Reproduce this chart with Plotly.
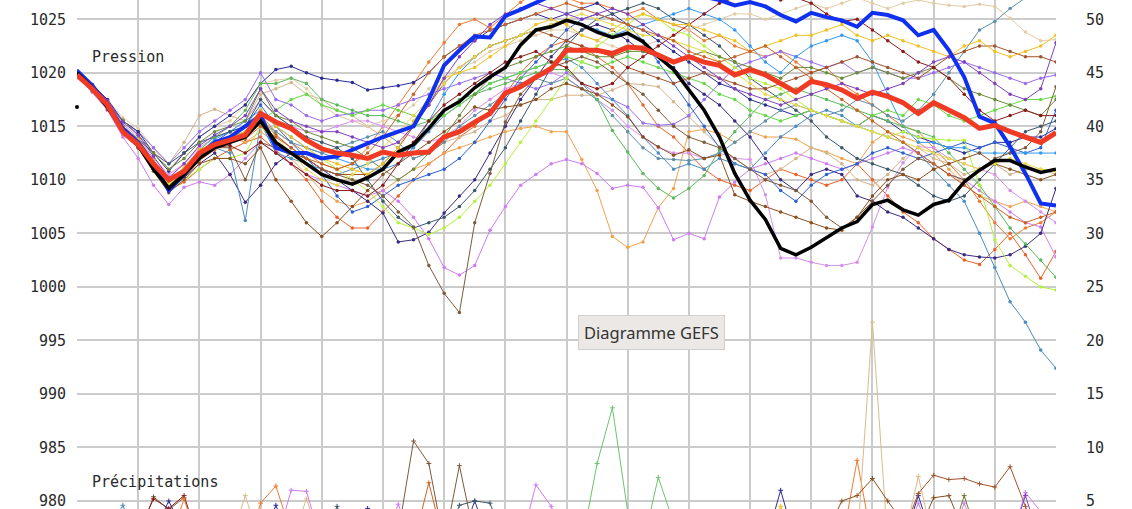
import plotly.graph_objects as go

# forecast hours, 6-hourly out to 384h
hours = list(range(0, 385, 6))

# ensemble mean / control / operational (hPa)
p_mean = [1019.8, 1018.5, 1017.0, 1014.5, 1013.3, 1011.5, 1010.0, 1010.8, 1012.5, 1013.3,
          1013.7, 1014.2, 1016.2, 1015.4, 1014.8, 1013.7, 1012.9, 1012.5, 1012.3, 1012.0,
          1012.6, 1012.3, 1012.5, 1012.6, 1014.0, 1014.5, 1015.4, 1016.2, 1018.1, 1018.7,
          1019.6, 1020.4, 1022.1, 1022.1, 1022.1, 1021.8, 1022.4, 1022.3, 1021.7, 1021.0,
          1021.5, 1021.0, 1020.7, 1019.8, 1020.3, 1019.8, 1019.0, 1018.2, 1019.2, 1018.9,
          1018.4, 1017.6, 1018.2, 1017.8, 1017.2, 1016.2, 1017.2, 1016.5, 1015.8, 1014.8,
          1015.1, 1014.5, 1014.0, 1013.5, 1014.4]
p_ctrl = [1020.0, 1018.6, 1016.8, 1014.6, 1013.2, 1011.0, 1009.2, 1010.5, 1012.0, 1013.0,
          1013.5, 1014.0, 1015.5, 1013.5, 1012.5, 1011.5, 1010.5, 1010.0, 1009.6, 1010.2,
          1011.0, 1012.6, 1013.3, 1014.8, 1016.5, 1017.3, 1018.6, 1019.6, 1020.5, 1022.6,
          1024.0, 1024.3, 1024.9, 1024.5, 1023.8, 1023.3, 1023.7, 1022.9, 1021.5, 1020.3,
          1018.4, 1016.5, 1014.0, 1010.6, 1008.1, 1006.3, 1003.6, 1003.0, 1003.7, 1004.6,
          1005.5, 1006.1, 1007.7, 1008.1, 1007.2, 1006.7, 1007.7, 1008.1, 1009.8, 1010.9,
          1011.8, 1011.8, 1011.2, 1010.7, 1011.0]
p_oper = [1020.2, 1018.8, 1017.0, 1014.8, 1013.5, 1011.5, 1009.0, 1010.5, 1012.3, 1013.5,
          1014.0, 1015.0, 1016.0, 1013.0, 1012.5, 1012.5, 1012.0, 1012.2, 1012.8, 1013.5,
          1014.0, 1014.5, 1015.0, 1017.5, 1020.7, 1022.1, 1023.4, 1023.3, 1025.3, 1025.9,
          1026.6, 1027.2, 1027.6, 1027.8, 1027.6, 1027.8, 1027.5, 1027.3, 1027.5, 1027.6,
          1027.4, 1027.1, 1026.8, 1026.3, 1026.6, 1026.2, 1025.4, 1024.8, 1025.6, 1025.2,
          1024.9, 1024.3, 1025.6, 1025.4, 1024.9, 1023.5, 1024.0, 1022.1, 1019.6, 1015.9,
          1015.3, 1013.1, 1010.6, 1007.8, 1007.6]

# ensemble members (hPa)
m_orange = [1019.8, 1018.6, 1016.8, 1014.5, 1013.2, 1011.0, 1009.5, 1010.2, 1011.8, 1012.8,
            1013.5, 1014.0, 1016.0, 1014.5, 1013.5, 1012.5, 1011.5, 1011.0, 1011.5, 1013.0,
            1015.0, 1017.0, 1019.0, 1021.0, 1022.8, 1024.5, 1025.0, 1024.2, 1025.4, 1026.6,
            1027.5, 1027.5, 1027.0, 1026.5, 1026.5, 1026.0, 1025.5, 1026.0, 1025.0, 1024.5,
            1024.0, 1023.0, 1023.5, 1022.5, 1022.0, 1021.5, 1022.0, 1021.0, 1020.0, 1020.5,
            1019.0, 1018.0, 1017.0, 1016.0, 1015.0, 1014.5, 1013.0, 1011.5, 1010.0, 1008.0,
            1006.0, 1004.5, 1005.5, 1006.0, 1007.0]
m_redorange = [1019.6, 1018.2, 1016.5, 1014.2, 1013.0, 1011.0, 1009.0, 1009.8, 1011.0, 1012.0,
               1012.8, 1013.5, 1014.0, 1012.8, 1011.5, 1010.0, 1008.0, 1006.5, 1005.5, 1005.5,
               1007.0, 1008.5, 1010.0, 1011.5, 1012.5, 1014.0, 1015.0, 1016.5, 1018.0, 1020.0,
               1021.5, 1022.5, 1023.0, 1022.5, 1021.5, 1020.5, 1019.0, 1017.0, 1015.0, 1014.0,
               1012.5, 1011.0, 1010.0, 1009.5, 1009.0, 1010.0, 1011.0, 1010.5, 1010.0, 1009.5,
               1010.0, 1011.5, 1010.0, 1008.5, 1007.0, 1006.0, 1004.5, 1003.5, 1002.5, 1002.1,
               1003.5, 1005.0, 1003.0, 1000.8, 1003.3]
m_sandy = [1020.0, 1018.5, 1016.8, 1014.8, 1013.5, 1011.5, 1009.8, 1010.5, 1012.0, 1013.5,
           1014.0, 1013.5, 1014.5, 1013.5, 1012.0, 1010.5, 1009.0, 1008.0, 1007.5, 1008.0,
           1009.0, 1010.0, 1011.0, 1011.5, 1012.5, 1013.0, 1013.5, 1014.0, 1014.5, 1014.8,
           1015.0, 1014.5, 1014.5, 1011.9, 1009.0, 1004.7, 1003.7, 1004.2, 1007.4, 1009.2,
           1014.5, 1014.7, 1014.3, 1013.5, 1014.5, 1014.0, 1014.0, 1013.8, 1013.0, 1012.6,
           1012.0, 1011.5, 1013.5, 1014.5, 1014.0, 1013.5, 1012.5, 1011.0, 1009.5, 1008.5,
           1008.0, 1007.5, 1008.0, 1007.5, 1007.0]
m_tan = [1019.5, 1018.3, 1017.0, 1015.5, 1014.5, 1013.0, 1011.5, 1013.5, 1016.0, 1016.6,
         1016.0, 1015.5, 1018.0, 1018.5, 1019.1, 1018.0, 1017.5, 1016.5, 1016.0, 1015.0,
         1014.0, 1013.0, 1012.0, 1012.5, 1013.5, 1014.0, 1014.5, 1015.5, 1016.0, 1017.0,
         1017.5, 1017.5, 1017.9, 1017.9, 1017.9, 1018.4, 1019.0, 1018.9, 1018.7, 1017.3,
         1015.9, 1014.5, 1013.1, 1012.0, 1011.0, 1010.5, 1011.0, 1012.0, 1013.0, 1012.5,
         1011.5, 1010.0, 1009.5, 1010.5, 1012.0, 1013.0, 1012.0, 1011.5, 1010.5, 1011.0,
         1011.5, 1010.5, 1011.0, 1011.0, 1010.5]
m_wheat = [1019.8, 1018.7, 1017.5, 1015.8, 1014.8, 1013.0, 1011.0, 1012.5, 1014.0, 1015.0,
           1015.5, 1017.0, 1019.0, 1019.3, 1019.5, 1018.5, 1017.0, 1016.0, 1015.5, 1015.0,
           1015.5, 1016.0, 1017.0, 1018.5, 1019.5, 1020.5, 1021.0, 1022.0, 1022.5, 1023.0,
           1023.5, 1024.0, 1024.0, 1023.5, 1023.0, 1022.5, 1022.0, 1022.5, 1023.0, 1023.5,
           1024.0, 1024.5, 1025.0, 1025.5, 1025.5, 1025.0, 1025.5, 1026.0, 1026.5, 1026.0,
           1026.5, 1027.0, 1026.5, 1026.0, 1026.5, 1026.8, 1026.5, 1026.3, 1026.2, 1026.4,
           1026.2, 1025.1, 1023.8, 1023.0, 1023.1]
m_lilac = [1019.8, 1018.2, 1016.5, 1014.0, 1012.0, 1009.5, 1007.7, 1009.3, 1009.8, 1009.5,
           1010.5, 1012.0, 1013.5, 1012.5, 1011.5, 1010.5, 1010.0, 1009.5, 1009.0, 1008.5,
           1009.0, 1008.0, 1006.5, 1004.5, 1001.8, 1001.1, 1002.0, 1005.3, 1007.5, 1009.5,
           1010.5, 1011.5, 1011.9, 1011.5, 1010.6, 1009.2, 1009.5, 1009.3, 1007.4, 1004.4,
           1005.0, 1004.5, 1008.4, 1009.8, 1011.0, 1011.5, 1012.0, 1012.5, 1012.0, 1011.5,
           1011.0, 1011.5, 1012.0, 1012.5, 1013.0, 1012.5, 1011.5, 1010.5, 1010.0, 1009.0,
           1008.0, 1007.0, 1006.0, 1005.6, 1002.8]
m_orchid = [1020.1, 1018.8, 1017.3, 1015.2, 1014.0, 1012.0, 1010.5, 1011.5, 1013.0, 1014.0,
            1014.5, 1015.5, 1017.5, 1016.0, 1015.0, 1014.5, 1014.5, 1015.0, 1015.5, 1015.5,
            1015.0, 1014.5, 1014.0, 1013.5, 1014.0, 1015.0, 1016.5, 1017.5, 1018.5, 1019.0,
            1019.5, 1020.0, 1019.5, 1018.5, 1017.5, 1016.5, 1015.0, 1014.0, 1013.0, 1012.5,
            1012.5, 1012.0, 1012.5, 1012.0, 1011.9, 1008.6, 1002.7, 1002.7, 1002.3, 1002.0,
            1002.0, 1002.3, 1005.6, 1009.3, 1011.6, 1013.1, 1013.0, 1012.0, 1011.5, 1011.0,
            1010.5, 1009.0, 1008.0, 1007.0, 1006.0]
m_mpurple = [1020.0, 1018.7, 1017.2, 1015.5, 1014.5, 1013.0, 1011.5, 1013.0, 1014.5, 1015.5,
             1016.5, 1017.5, 1020.0, 1017.5, 1017.0, 1016.0, 1015.5, 1016.0, 1016.2, 1016.5,
             1016.5, 1017.0, 1017.5, 1018.0, 1018.5, 1019.0, 1019.5, 1020.0, 1019.5, 1019.0,
             1018.5, 1019.0, 1020.0, 1019.0, 1018.0, 1017.5, 1016.8, 1015.3, 1015.1, 1015.2,
             1016.0, 1017.5, 1019.0, 1020.5, 1021.0, 1021.5, 1022.0, 1021.5, 1021.0, 1020.5,
             1021.0, 1020.0, 1020.5, 1020.0, 1019.5, 1019.5, 1020.0, 1020.5, 1021.0, 1020.5,
             1020.0, 1019.5, 1019.0, 1019.5, 1019.8]
m_navy = [1020.2, 1018.9, 1017.5, 1015.5, 1014.5, 1012.5, 1010.8, 1012.5, 1014.0, 1015.0,
          1016.0, 1017.0, 1019.0, 1020.3, 1020.6, 1020.0, 1019.5, 1019.3, 1019.1, 1018.4,
          1018.6, 1018.8, 1019.1, 1020.0, 1021.5, 1022.5, 1023.0, 1024.0, 1024.5, 1025.0,
          1025.5, 1025.0, 1025.5, 1026.0, 1026.5, 1025.5, 1024.5, 1024.0, 1023.0, 1022.0,
          1021.0, 1020.0, 1019.0, 1018.5, 1017.5, 1017.0, 1016.5, 1016.0, 1016.5, 1016.0,
          1015.5, 1015.0, 1016.0, 1015.5, 1014.5, 1014.0, 1013.5, 1013.0, 1012.5, 1013.0,
          1013.5, 1013.5, 1014.0, 1014.0, 1014.8]
m_slateblue = [1019.7, 1018.4, 1016.8, 1014.6, 1013.0, 1011.0, 1009.0, 1010.2, 1011.5, 1012.5,
               1010.5, 1007.9, 1009.5, 1011.5, 1012.5, 1012.0, 1011.0, 1010.0, 1009.0, 1008.0,
               1006.9, 1004.2, 1004.4, 1005.1, 1006.9, 1008.5, 1010.0, 1012.5, 1015.0, 1017.5,
               1019.5, 1021.5, 1023.0, 1024.0, 1024.5, 1024.0, 1023.0, 1022.0, 1021.5, 1020.5,
               1019.0, 1018.0, 1017.0, 1015.5, 1014.0, 1012.0, 1010.0, 1009.0, 1010.5, 1011.0,
               1010.5, 1008.5, 1008.0, 1007.0, 1006.5, 1005.5, 1004.5, 1003.5, 1003.0, 1002.8,
               1002.7, 1003.0, 1003.8, 1005.0, 1009.2]
m_royal = [1020.0, 1018.6, 1017.0, 1014.8, 1013.6, 1011.5, 1009.5, 1010.8, 1012.5, 1013.5,
           1014.5, 1015.0, 1017.0, 1015.0, 1013.5, 1012.0, 1010.5, 1008.5, 1007.0, 1007.5,
           1008.5, 1009.5, 1010.0, 1010.5, 1011.0, 1012.0, 1013.5, 1015.5, 1017.5, 1019.5,
           1021.0, 1022.5, 1024.0, 1025.0, 1025.5, 1025.0, 1024.5, 1023.0, 1021.0, 1019.0,
           1017.0, 1015.0, 1013.0, 1011.5, 1011.0, 1010.5, 1009.0, 1008.0, 1009.5, 1010.5,
           1011.0, 1011.5, 1012.5, 1013.0, 1012.5, 1012.0, 1012.5, 1013.0, 1013.5, 1013.0,
           1013.5, 1013.0, 1012.5, 1013.0, 1016.5]
m_dodger = [1020.1, 1018.7, 1017.1, 1015.0, 1013.8, 1011.8, 1010.0, 1011.0, 1012.5, 1013.8,
            1014.5, 1015.5, 1016.5, 1015.0, 1014.0, 1013.0, 1012.5, 1012.0, 1011.5, 1011.0,
            1011.0, 1011.5, 1013.0, 1015.5, 1018.0, 1020.0, 1021.5, 1022.5, 1023.0, 1023.5,
            1024.0, 1024.5, 1025.0, 1024.5, 1024.0, 1023.5, 1024.0, 1024.5, 1025.0, 1025.5,
            1026.0, 1025.5, 1025.0, 1024.0, 1022.5, 1021.0, 1020.0, 1021.5, 1022.5, 1023.0,
            1023.5, 1023.0, 1021.0, 1018.0, 1015.0, 1013.5, 1013.5, 1013.0, 1013.0, 1012.5,
            1012.5, 1012.5, 1012.5, 1012.5, 1012.5]
m_steel = [1020.2, 1018.8, 1017.2, 1015.0, 1013.5, 1011.8, 1009.5, 1010.5, 1012.0, 1013.0,
           1012.5, 1006.2, 1015.3, 1012.5, 1012.0, 1011.5, 1011.0, 1010.5, 1011.0, 1011.5,
           1012.0, 1012.5, 1013.0, 1014.5, 1016.0, 1017.0, 1018.0, 1019.0, 1019.5, 1020.0,
           1020.5, 1021.0, 1021.3, 1020.5, 1019.0, 1017.5, 1016.0, 1014.0, 1012.5, 1011.0,
           1011.5, 1011.0, 1012.0, 1011.5, 1011.0, 1012.5, 1014.0, 1015.0, 1016.0, 1016.5,
           1016.0, 1015.0, 1014.5, 1014.0, 1013.5, 1012.5, 1011.0, 1009.5, 1008.0, 1005.0,
           1001.8, 998.6, 996.7, 994.1, 992.4]
m_cadet = [1019.9, 1018.5, 1016.9, 1014.7, 1013.4, 1011.3, 1009.3, 1010.6, 1012.2, 1013.3,
           1014.0, 1014.5, 1015.5, 1014.5, 1013.5, 1013.0, 1012.5, 1013.0, 1013.5, 1014.0,
           1014.5, 1013.5, 1012.0, 1012.5, 1013.5, 1015.0, 1016.0, 1017.0, 1018.0, 1019.0,
           1019.5, 1019.0, 1019.5, 1018.5, 1017.5, 1016.0, 1014.5, 1013.0, 1012.0, 1011.9,
           1011.8, 1012.0, 1012.5, 1013.5, 1014.5, 1015.5, 1016.5, 1017.0, 1016.5, 1016.0,
           1016.5, 1017.5, 1017.0, 1016.0, 1015.5, 1016.5, 1018.0, 1020.0, 1022.0, 1024.0,
           1024.8, 1026.0, 1027.0, 1027.5, 1028.0]
m_slategray = [1019.8, 1018.4, 1016.6, 1015.0, 1013.8, 1012.5, 1011.5, 1012.5, 1013.5, 1014.0,
               1014.5, 1015.0, 1017.5, 1016.0, 1015.0, 1014.0, 1013.5, 1013.0, 1012.0, 1010.0,
               1008.0, 1006.5, 1005.5, 1006.0, 1006.5, 1007.5, 1009.0, 1011.0, 1013.0, 1015.5,
               1018.0, 1020.5, 1022.5, 1024.0, 1025.0, 1025.5, 1026.0, 1026.5, 1026.0, 1025.0,
               1024.5, 1023.5, 1022.5, 1021.0, 1019.5, 1018.5, 1017.5, 1016.5, 1015.5, 1014.0,
               1013.0, 1012.0, 1011.5, 1011.0, 1010.5, 1009.5, 1008.5, 1008.0, 1008.5, 1010.0,
               1011.5, 1013.0, 1014.5, 1015.0, 1015.5]
m_green = [1020.0, 1018.6, 1017.0, 1014.9, 1013.7, 1011.6, 1009.6, 1011.0, 1012.8, 1014.0,
           1015.0, 1016.5, 1019.0, 1019.0, 1019.5, 1019.0, 1017.5, 1017.0, 1016.5, 1016.0,
           1016.0, 1015.5, 1015.0, 1015.5, 1016.5, 1017.5, 1018.0, 1018.5, 1019.0, 1019.5,
           1020.0, 1020.3, 1020.3, 1019.0, 1017.5, 1014.6, 1012.6, 1010.6, 1009.2, 1008.3,
           1009.2, 1010.4, 1012.8, 1014.5, 1016.0, 1017.5, 1018.0, 1018.5, 1018.0, 1017.5,
           1017.0, 1016.5, 1016.0, 1015.5, 1015.0, 1014.5, 1014.0, 1012.5, 1011.0, 1009.5,
           1007.5, 1005.5, 1004.0, 1002.5, 1000.9]
m_lightgreen = [1019.9, 1018.5, 1016.9, 1014.8, 1013.5, 1011.5, 1009.5, 1011.0, 1012.5, 1013.0,
                1013.5, 1014.0, 1015.5, 1016.5, 1017.5, 1018.0, 1017.0, 1016.5, 1016.0, 1016.5,
                1017.0, 1016.5, 1016.0, 1015.5, 1016.0, 1017.0, 1018.0, 1019.0, 1019.5, 1020.0,
                1020.5, 1021.0, 1021.5, 1021.0, 1020.5, 1021.0, 1021.5, 1021.0, 1020.5, 1020.0,
                1019.5, 1019.0, 1018.0, 1017.5, 1016.5, 1016.0, 1015.5, 1016.0, 1016.5, 1016.0,
                1015.5, 1015.0, 1016.0, 1016.5, 1016.0, 1017.5, 1017.0, 1016.0, 1015.5, 1016.0,
                1016.5, 1017.0, 1017.5, 1017.5, 1017.8]
m_lime = [1020.0, 1018.4, 1016.7, 1014.6, 1013.3, 1011.2, 1009.0, 1010.0, 1011.0, 1012.0,
          1012.0, 1012.5, 1015.0, 1013.5, 1012.5, 1012.5, 1012.0, 1011.0, 1010.0, 1009.0,
          1007.5, 1006.0, 1005.5, 1004.9, 1005.5, 1006.5, 1008.0, 1009.5, 1011.5, 1013.5,
          1015.5, 1017.5, 1019.5, 1021.0, 1022.5, 1023.5, 1024.5, 1025.5, 1025.0, 1024.0,
          1023.5, 1022.5, 1021.5, 1020.5, 1019.5, 1019.0, 1018.5, 1017.5, 1016.5, 1016.0,
          1015.5, 1015.0, 1014.5, 1014.0, 1014.5, 1014.0, 1013.8, 1013.7, 1013.7, 1009.5,
          1004.4, 1002.0, 1001.0, 1000.0, 999.7]
m_olive = [1020.0, 1018.6, 1017.0, 1015.6, 1014.2, 1012.5, 1011.0, 1012.0, 1013.5, 1014.5,
           1015.0, 1015.5, 1018.5, 1016.0, 1015.5, 1014.5, 1014.0, 1013.5, 1013.0, 1012.0,
           1011.0, 1010.0, 1011.0, 1012.5, 1014.0, 1016.0, 1018.0, 1019.5, 1020.5, 1021.0,
           1021.5, 1022.0, 1022.5, 1022.0, 1021.5, 1021.5, 1022.0, 1022.0, 1021.5, 1021.0,
           1021.5, 1022.0, 1021.5, 1021.0, 1020.5, 1020.0, 1019.5, 1020.5, 1020.5, 1020.0,
           1019.5, 1020.0, 1020.5, 1020.0, 1019.5, 1020.0, 1020.5, 1019.5, 1018.5, 1018.0,
           1017.5, 1017.0, 1016.5, 1016.0, 1017.5]
m_brown = [1019.8, 1018.3, 1016.6, 1014.5, 1013.2, 1011.2, 1009.2, 1010.5, 1012.0, 1013.0,
           1013.0, 1010.0, 1013.5, 1013.0, 1012.5, 1012.0, 1011.0, 1010.5, 1010.0, 1009.5,
           1008.5, 1007.0, 1005.6, 1002.0, 999.4, 997.6, 1006.0, 1010.6, 1015.4, 1018.0,
           1019.5, 1020.5, 1021.0, 1021.5, 1021.0, 1020.0, 1019.0, 1018.0, 1016.5, 1015.0,
           1014.0, 1013.5, 1013.0, 1012.0, 1011.0, 1010.0, 1009.5, 1009.0, 1008.0, 1006.5,
           1005.5, 1006.5, 1008.0, 1009.5, 1011.0, 1012.0, 1011.5, 1010.5, 1010.0, 1011.0,
           1012.0, 1012.5, 1013.0, 1014.5, 1018.7]
m_saddle = [1019.9, 1018.4, 1016.8, 1014.5, 1013.0, 1010.8, 1008.8, 1010.0, 1011.5, 1012.0,
            1012.0, 1011.5, 1013.0, 1010.0, 1008.0, 1006.0, 1004.7, 1006.0, 1007.5, 1009.0,
            1010.5, 1011.5, 1012.5, 1013.5, 1014.5, 1015.5, 1016.8, 1016.5, 1016.8, 1017.0,
            1017.5, 1018.5, 1019.0, 1018.5, 1018.0, 1017.0, 1015.9, 1014.0, 1013.1, 1012.3,
            1012.8, 1012.0, 1012.3, 1008.6, 1008.0, 1007.5, 1007.0, 1006.5, 1006.0, 1005.5,
            1005.3, 1006.5, 1008.5, 1010.0, 1010.5, 1010.0, 1011.0, 1011.5, 1012.0, 1012.5,
            1011.5, 1011.0, 1010.5, 1010.0, 1010.5]
m_sienna = [1020.0, 1018.7, 1017.1, 1014.9, 1013.6, 1011.4, 1009.4, 1010.8, 1012.3, 1013.2,
            1013.8, 1014.2, 1015.8, 1014.2, 1013.0, 1012.0, 1011.0, 1010.5, 1010.5, 1010.5,
            1011.5, 1013.0, 1015.0, 1017.0, 1019.0, 1020.5, 1021.5, 1022.5, 1023.0, 1023.5,
            1024.0, 1023.5, 1023.0, 1022.5, 1022.0, 1021.5, 1020.5, 1020.0, 1019.5, 1019.0,
            1019.5, 1020.0, 1019.5, 1019.0, 1018.5, 1018.5, 1019.0, 1019.5, 1020.0, 1020.5,
            1021.0, 1021.5, 1021.0, 1020.5, 1020.0, 1019.5, 1020.5, 1021.5, 1022.0, 1022.5,
            1022.5, 1022.0, 1021.5, 1021.5, 1021.0]
m_darkred = [1019.9, 1018.6, 1017.0, 1014.7, 1013.3, 1011.2, 1009.1, 1010.6, 1012.3, 1013.0,
             1013.2, 1012.5, 1013.5, 1012.5, 1011.5, 1010.5, 1009.5, 1009.0, 1009.0, 1008.5,
             1009.5, 1011.5, 1013.5, 1015.5, 1017.0, 1018.0, 1019.0, 1020.0, 1021.0, 1021.5,
             1022.0, 1021.0, 1020.5, 1019.0, 1018.5, 1019.0, 1020.5, 1021.5, 1022.5, 1023.5,
             1024.5, 1025.5, 1026.5, 1027.0, 1027.5, 1027.2, 1026.8, 1027.0, 1026.5, 1025.5,
             1024.8, 1025.0, 1024.0, 1023.0, 1022.0, 1021.0, 1020.5, 1019.5, 1018.0, 1016.5,
             1015.5, 1016.0, 1016.5, 1016.0, 1016.0]
m_gold = [1020.0, 1018.8, 1017.2, 1015.0, 1013.8, 1011.8, 1009.8, 1011.2, 1012.8, 1013.5,
          1014.0, 1014.5, 1016.5, 1015.0, 1014.0, 1013.0, 1012.0, 1011.5, 1011.0, 1010.5,
          1011.5, 1013.0, 1015.5, 1017.5, 1019.5, 1020.0, 1020.5, 1021.5, 1022.5, 1023.5,
          1024.5, 1025.0, 1024.5, 1023.5, 1023.0, 1024.0, 1025.0, 1025.5, 1025.0, 1024.5,
          1024.5, 1024.0, 1023.5, 1023.0, 1022.0, 1022.5, 1023.0, 1023.5, 1023.5, 1024.0,
          1024.5, 1023.5, 1023.0, 1023.5, 1023.0, 1022.5, 1022.0, 1021.5, 1022.5, 1023.0,
          1022.0, 1021.5, 1022.0, 1022.5, 1023.5]
m_yellow = [1019.9, 1018.5, 1016.9, 1014.7, 1013.5, 1011.5, 1009.6, 1010.8, 1012.0, 1013.0,
            1013.8, 1014.5, 1016.0, 1014.0, 1012.5, 1011.0, 1010.0, 1009.5, 1010.5, 1011.5,
            1013.0, 1014.5, 1016.0, 1017.5, 1019.0, 1020.5, 1021.5, 1022.5, 1023.0, 1023.5,
            1024.0, 1024.5, 1025.0, 1025.5, 1025.0, 1024.5, 1024.0, 1023.5, 1023.5, 1023.0,
            1022.5, 1022.0, 1021.0, 1020.0, 1019.0, 1018.0, 1017.5, 1017.0, 1016.5, 1016.0,
            1015.5, 1015.0, 1014.5, 1014.0, 1013.5, 1013.0, 1012.5, 1012.0, 1011.5, 1011.0,
            1011.5, 1012.0, 1011.5, 1011.0, 1010.8]
m_choc = [1019.8, 1018.5, 1016.9, 1014.7, 1013.4, 1011.4, 1009.4, 1010.5, 1012.0, 1013.0,
          1013.5, 1013.8, 1015.0, 1014.0, 1013.0, 1012.0, 1011.5, 1011.0, 1011.5, 1012.5,
          1014.0, 1016.0, 1018.0, 1020.0, 1021.5, 1022.5, 1023.5, 1024.0, 1024.5, 1025.0,
          1025.5, 1026.0, 1026.5, 1026.0, 1025.5, 1025.0, 1024.5, 1024.0, 1023.5, 1023.0,
          1022.0, 1021.5, 1021.0, 1021.5, 1022.0, 1022.5, 1021.5, 1020.5, 1019.5, 1018.5,
          1017.5, 1016.5, 1015.5, 1014.5, 1013.5, 1012.5, 1011.5, 1010.5, 1009.5, 1008.5,
          1007.5, 1006.5, 1006.0, 1006.5, 1007.0]
m_purple = [1020.1, 1018.9, 1017.4, 1015.4, 1014.2, 1012.2, 1010.2, 1011.5, 1013.2, 1014.2,
            1015.0, 1016.0, 1018.5, 1016.5, 1015.5, 1015.0, 1014.5, 1014.5, 1014.0, 1013.5,
            1013.0, 1013.5, 1015.0, 1017.0, 1019.5, 1021.5, 1023.0, 1024.5, 1025.5, 1026.0,
            1026.5, 1026.0, 1025.5, 1025.0, 1025.5, 1026.0, 1025.5, 1024.5, 1023.5, 1022.5,
            1021.5, 1020.5, 1019.5, 1018.5, 1018.0, 1017.5, 1017.0, 1017.5, 1018.0, 1018.5,
            1019.0, 1018.5, 1018.0, 1018.5, 1019.0, 1020.0, 1021.0, 1021.5, 1021.0, 1020.0,
            1019.0, 1018.0, 1017.5, 1018.5, 1022.8]

# precipitation per member (mm, right axis)
r_brown = [0, 0, 0, 0, 1.5, 5.4, 4.2, 5.3, 1.0, 0,
           0, 0, 0, 0, 0, 0, 0, 0, 0, 0,
           0, 2.0, 10.6, 8.5, 1.0, 8.3, 1.5, 0, 0, 0,
           0, 0, 0, 0, 0, 0, 0, 0, 0, 0,
           0, 0, 0, 0, 0, 0, 0, 0, 0, 0,
           0, 0, 0, 0, 0, 0, 0, 0, 0, 0,
           0, 0, 0, 0, 0]
r_darkred = [0, 0, 0, 0, 2.0, 5.2, 4.3, 5.5, 1.0, 0,
             0, 0, 0, 0, 0, 0, 0, 0, 0, 0,
             0, 0, 0, 0, 0, 0, 0, 0, 0, 0,
             0, 0, 0, 0, 0, 0, 0, 0, 0, 0,
             0, 0, 0, 0, 0, 0, 0, 0, 0, 0,
             0, 0, 0, 0, 0, 0, 0, 0, 0, 0,
             0, 0, 0, 0, 0]
r_navy = [0, 0, 0, 0, 0, 2.0, 5.0, 2.0, 0, 0,
          0, 0, 1.0, 4.6, 1.0, 0, 0, 0, 1.0, 4.3,
          1.0, 0, 0, 0, 0, 1.0, 5.0, 1.0, 0, 0,
          0, 0, 0, 0, 0, 0, 0, 0, 0, 0,
          0, 0, 0, 0, 0, 1.0, 6.0, 1.0, 0, 0,
          0, 0, 0, 0, 1.0, 5.5, 1.0, 0, 0, 0,
          0, 0, 0, 0, 0]
r_orange = [0, 0, 0, 0, 0, 0, 1.0, 5.2, 1.0, 0,
            0, 0, 4.8, 6.4, 2.0, 0, 0, 0, 0, 0,
            0, 0, 0, 0, 0, 0, 0, 0, 0, 0,
            0, 0, 0, 0, 0, 0, 0, 0, 0, 0,
            0, 0, 0, 0, 0, 0, 0, 0, 0, 0,
            1.0, 8.8, 1.0, 0, 0, 0, 0, 0, 0, 0,
            0, 0, 0, 0, 0]
r_tan = [0, 0, 0, 0, 0, 0, 0, 0, 0, 0,
         1.0, 5.5, 1.0, 0, 1.0, 5.2, 1.0, 0, 0, 0,
         0, 0, 0, 0, 0, 0, 0, 0, 0, 0,
         0, 0, 0, 0, 0, 0, 0, 0, 0, 0,
         0, 0, 0, 0, 0, 0, 0, 0, 0, 0,
         0, 1.0, 21.7, 1.0, 1.0, 7.3, 1.0, 0, 0, 0,
         0, 0, 0, 0, 0]
r_lilac = [0, 0, 0, 0, 0, 0, 0, 0, 0, 0,
           0, 0, 0, 1.0, 6.0, 5.9, 1.0, 0, 0, 0,
           1.0, 4.7, 1.0, 0, 0, 0, 0, 0, 0, 1.0,
           6.5, 4.5, 1.0, 0, 0, 0, 0, 0, 0, 0,
           0, 0, 0, 0, 0, 0, 0, 0, 0, 0,
           0, 0, 0, 0, 1.0, 4.8, 1.0, 1.0, 4.8, 1.0,
           0, 1.0, 5.8, 4.0, 0]
r_green = [0, 0, 0, 0, 0, 0, 0, 0, 0, 0,
           0, 0, 0, 0, 0, 0, 0, 0, 0, 0,
           0, 0, 0, 0, 0, 0, 0, 0, 0, 0,
           0, 0, 0, 1.0, 8.5, 13.7, 4.0, 1.0, 7.2, 3.0,
           0, 0, 0, 0, 0, 0, 0, 0, 0, 0,
           0, 0, 0, 0, 0, 0, 0, 0, 0, 0,
           0, 0, 0, 0, 0]
r_slate = [0, 0, 0, 0, 0, 0, 0, 0, 0, 0,
           0, 0, 0, 0, 0, 0, 1.0, 4.5, 1.0, 0,
           0, 0, 0, 0, 1.0, 4.6, 5.0, 4.8, 1.0, 0,
           0, 0, 0, 0, 0, 0, 0, 0, 0, 0,
           0, 0, 0, 0, 0, 0, 0, 0, 0, 0,
           0, 0, 0, 0, 0, 0, 0, 0, 0, 0,
           0, 0, 0, 0, 0]
r_steel = [0, 1.0, 2.0, 4.6, 1.0, 0, 0, 0, 0, 0,
           0, 0, 0, 0, 0, 0, 0, 0, 0, 0,
           0, 0, 0, 0, 0, 0, 0, 0, 0, 0,
           0, 0, 0, 0, 0, 0, 0, 0, 0, 0,
           0, 0, 0, 0, 0, 0, 0, 0, 0, 0,
           0, 0, 0, 0, 0, 0, 0, 0, 0, 0,
           0, 0, 0, 0, 0]
r_choc = [0, 0, 0, 0, 0, 0, 0, 0, 0, 0,
          0, 0, 0, 0, 0, 0, 0, 0, 0, 0,
          0, 0, 1.0, 6.7, 1.0, 0, 0, 0, 0, 0,
          0, 0, 0, 0, 0, 0, 0, 0, 0, 0,
          0, 0, 0, 0, 0, 0, 0, 0, 0, 0,
          0, 0, 0, 0, 0, 0, 0, 0, 0, 0,
          0, 0, 0, 0, 0]
r_saddle = [0, 0, 0, 0, 0, 0, 0, 0, 0, 0,
            0, 0, 0, 0, 0, 0, 0, 0, 0, 0,
            0, 0, 0, 0, 0, 0, 0, 0, 0, 0,
            0, 0, 0, 0, 0, 0, 0, 0, 0, 0,
            0, 0, 0, 0, 0, 0, 0, 0, 0, 2.0,
            5.0, 5.5, 7.1, 5.0, 3.0, 2.0, 5.3, 5.5, 2.0, 0,
            0, 0, 0, 0, 0]
r_sienna = [0, 0, 0, 0, 0, 0, 0, 0, 0, 0,
            0, 0, 0, 0, 0, 0, 0, 0, 0, 0,
            0, 0, 0, 0, 0, 0, 0, 0, 0, 0,
            0, 0, 0, 0, 0, 0, 0, 0, 0, 0,
            0, 0, 0, 0, 0, 0, 0, 0, 0, 0,
            0, 0, 0, 0, 2.0, 5.7, 7.4, 7.0, 7.1, 6.6,
            6.3, 8.2, 4.5, 1.0, 0]
r_olive = [0, 0, 0, 0, 0, 0, 0, 0, 0, 0,
           0, 0, 0, 0, 0, 0, 0, 0, 0, 0,
           0, 0, 0, 0, 0, 0, 0, 0, 0, 0,
           0, 0, 0, 0, 0, 0, 0, 0, 0, 0,
           0, 0, 0, 0, 0, 0, 0, 0, 0, 0,
           0, 0, 0, 0, 0, 0, 0, 1.0, 5.5, 1.0,
           0, 0, 0, 0, 0]
r_gold = [0, 0, 0, 0, 0, 0, 0, 0, 0, 0,
          0, 0, 0, 0, 0, 0, 0, 0, 0, 0,
          0, 0, 0, 0, 0, 0, 0, 0, 0, 0,
          0, 0, 0, 0, 1.0, 4.0, 1.0, 0, 0, 0,
          0, 0, 0, 0, 0, 1.0, 4.5, 1.0, 0, 0,
          0, 0, 0, 0, 0, 0, 0, 0, 0, 0,
          0, 0, 0, 0, 0]
r_purple = [0, 0, 0, 0, 0, 0, 0, 0, 0, 0,
            0, 0, 0, 0, 0, 0, 0, 0, 0, 0,
            0, 0, 0, 0, 0, 0, 0, 0, 0, 0,
            0, 0, 0, 0, 0, 0, 0, 0, 0, 0,
            0, 0, 0, 0, 0, 0, 0, 0, 0, 0,
            0, 0, 0, 0, 0, 0, 0, 0, 0, 0,
            0, 1.0, 5.5, 1.0, 0]

members = [
    (m_orange, "#ee7a33"), (m_redorange, "#e8632a"), (m_sandy, "#f0a24e"),
    (m_tan, "#d4b48a"), (m_wheat, "#e2cca6"), (m_lilac, "#cf7cf2"),
    (m_orchid, "#d68fea"), (m_mpurple, "#9a6cf0"), (m_navy, "#2c2c96"),
    (m_slateblue, "#3a2a80"), (m_royal, "#2f5fd0"), (m_dodger, "#3399ee"),
    (m_steel, "#4a8cc4"), (m_cadet, "#5e8ea8"), (m_slategray, "#3c5868"),
    (m_green, "#5cb85c"), (m_lightgreen, "#66d944"), (m_lime, "#b4f040"),
    (m_olive, "#6b8a3a"), (m_brown, "#7d5a3c"), (m_saddle, "#8b4f1f"),
    (m_sienna, "#a0522d"), (m_darkred, "#8b1a1a"), (m_gold, "#f0c020"),
    (m_yellow, "#e8d848"), (m_choc, "#c86428"), (m_purple, "#8040c0"),
]
rain = [
    (r_steel, "#4a8cc4"), (r_brown, "#7d5a3c"), (r_darkred, "#8b1a1a"),
    (r_navy, "#2c2c96"), (r_orange, "#ee7a33"), (r_tan, "#d8bc8a"),
    (r_lilac, "#cf7cf2"), (r_green, "#6cc46c"), (r_slate, "#3c5868"),
    (r_choc, "#c86428"), (r_saddle, "#8b4f1f"), (r_sienna, "#a0522d"),
    (r_olive, "#6b7a2a"), (r_gold, "#f0c020"), (r_purple, "#8040c0"),
]

fig = go.Figure()

for vals, col in rain:
    fig.add_trace(go.Scatter(x=hours, y=vals, yaxis="y2", mode="lines+markers",
                             line=dict(color=col, width=1),
                             marker=dict(color=col, size=3.5, symbol="cross-thin",
                                         line=dict(color=col, width=1)),
                             showlegend=False, hoverinfo="skip"))

for vals, col in members:
    fig.add_trace(go.Scatter(x=hours, y=vals, mode="lines+markers",
                             line=dict(color=col, width=1),
                             marker=dict(color=col, size=3.5),
                             showlegend=False, hoverinfo="skip"))

fig.add_trace(go.Scatter(x=hours, y=p_oper, mode="lines", line=dict(color="#1030f0", width=4),
                         showlegend=False, hoverinfo="skip"))
fig.add_trace(go.Scatter(x=hours, y=p_ctrl, mode="lines", line=dict(color="#000000", width=3.5),
                         showlegend=False, hoverinfo="skip"))
fig.add_trace(go.Scatter(x=hours, y=p_mean, mode="lines", line=dict(color="#f03a24", width=5),
                         showlegend=False, hoverinfo="skip"))
# lone analysis dot
fig.add_trace(go.Scatter(x=[0], y=[1016.8], mode="markers", marker=dict(color="black", size=4),
                         showlegend=False, hoverinfo="skip", cliponaxis=False))

grid = "#cbcbcb"
mono = dict(family="DejaVu Sans Mono", size=15, color="#2a2a2a")

fig.update_layout(
    width=1132, height=509,
    margin=dict(l=77, r=76, t=0, b=0),
    paper_bgcolor="white", plot_bgcolor="white",
    showlegend=False,
    xaxis=dict(range=[0, 384], dtick=24, tick0=0, showticklabels=False,
               showgrid=True, gridcolor=grid, gridwidth=1.5, zeroline=False,
               showline=False),
    yaxis=dict(range=[979.25, 1026.8], dtick=5, tick0=980, showgrid=True,
               gridcolor=grid, gridwidth=1.5, zeroline=False, showline=False,
               tickfont=mono, ticks="", ticklabelstandoff=10,
               ticklabeloverflow="allow"),
    yaxis2=dict(range=[4.25, 51.8], dtick=5, tick0=5, overlaying="y", side="right",
                showgrid=False, zeroline=False, showline=False, tickfont=mono,
                ticks="", ticklabelstandoff=29, ticklabeloverflow="allow"),
    annotations=[
        dict(text="Pression", x=90, y=57, xref="paper", yref="paper", showarrow=False,
             font=mono, xanchor="left", yanchor="middle"),
        dict(text="Précipitations", x=90, y=482, xref="paper", yref="paper", showarrow=False,
             font=mono, xanchor="left", yanchor="middle"),
        dict(text="Diagramme GEFS", x=651, y=332, xref="paper", yref="paper",
             showarrow=False, xanchor="center", yanchor="middle",
             font=dict(family="Noto Sans", size=16.5, color="#333333"),
             bgcolor="#ebe8e5", bordercolor="#d3cfcb", borderwidth=1, borderpad=5),
    ],
)

# annotation positions above are in pixels; convert to paper fractions
pw, ph = 1132 - 77 - 76, 509
for a in fig.layout.annotations:
    a.x = (a.x - 77) / pw
    a.y = 1 - a.y / ph

# drop the page's default body margin so the figure sits at the window origin
fig.write_html("out.html", config={"displayModeBar": False},
               post_script="document.body.style.margin='0';")
